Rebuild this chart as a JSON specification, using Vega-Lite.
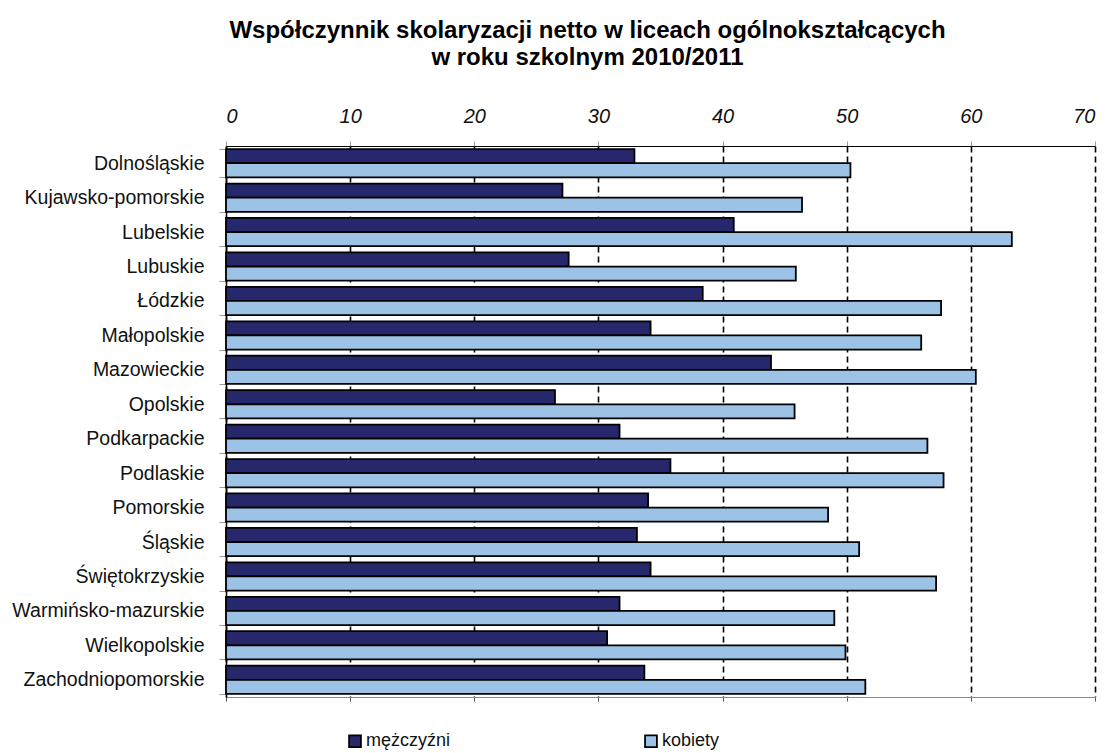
{
  "$schema": "https://vega.github.io/schema/vega-lite/v6.json",
  "autosize": {"type": "none"},
  "padding": {"left": 226, "top": 146, "right": 12, "bottom": 56},
  "width": 869,
  "height": 551,
  "background": "white",
  "config": {
    "font": "Liberation Sans, Arial",
    "view": {"stroke": null}
  },
  "title": {
    "text": ["Współczynnik skolaryzacji netto w liceach ogólnokształcących", "w roku szkolnym 2010/2011"],
    "font": "Liberation Sans, Arial",
    "fontSize": 24,
    "fontWeight": "bold",
    "color": "black",
    "anchor": "middle",
    "dx": -73,
    "offset": 36,
    "lineHeight": 27
  },
  "data": {
    "values": [
      {"region": "Dolnośląskie", "plec": "mężczyźni", "wartosc": 32.9},
      {"region": "Dolnośląskie", "plec": "kobiety", "wartosc": 50.3},
      {"region": "Kujawsko-pomorskie", "plec": "mężczyźni", "wartosc": 27.1},
      {"region": "Kujawsko-pomorskie", "plec": "kobiety", "wartosc": 46.4},
      {"region": "Lubelskie", "plec": "mężczyźni", "wartosc": 40.9},
      {"region": "Lubelskie", "plec": "kobiety", "wartosc": 63.3},
      {"region": "Lubuskie", "plec": "mężczyźni", "wartosc": 27.6},
      {"region": "Lubuskie", "plec": "kobiety", "wartosc": 45.9},
      {"region": "Łódzkie", "plec": "mężczyźni", "wartosc": 38.4},
      {"region": "Łódzkie", "plec": "kobiety", "wartosc": 57.6},
      {"region": "Małopolskie", "plec": "mężczyźni", "wartosc": 34.2},
      {"region": "Małopolskie", "plec": "kobiety", "wartosc": 56.0},
      {"region": "Mazowieckie", "plec": "mężczyźni", "wartosc": 43.9},
      {"region": "Mazowieckie", "plec": "kobiety", "wartosc": 60.4},
      {"region": "Opolskie", "plec": "mężczyźni", "wartosc": 26.5},
      {"region": "Opolskie", "plec": "kobiety", "wartosc": 45.8},
      {"region": "Podkarpackie", "plec": "mężczyźni", "wartosc": 31.7},
      {"region": "Podkarpackie", "plec": "kobiety", "wartosc": 56.5},
      {"region": "Podlaskie", "plec": "mężczyźni", "wartosc": 35.8},
      {"region": "Podlaskie", "plec": "kobiety", "wartosc": 57.8},
      {"region": "Pomorskie", "plec": "mężczyźni", "wartosc": 34.0},
      {"region": "Pomorskie", "plec": "kobiety", "wartosc": 48.5},
      {"region": "Śląskie", "plec": "mężczyźni", "wartosc": 33.1},
      {"region": "Śląskie", "plec": "kobiety", "wartosc": 51.0},
      {"region": "Świętokrzyskie", "plec": "mężczyźni", "wartosc": 34.2},
      {"region": "Świętokrzyskie", "plec": "kobiety", "wartosc": 57.2},
      {"region": "Warmińsko-mazurskie", "plec": "mężczyźni", "wartosc": 31.7},
      {"region": "Warmińsko-mazurskie", "plec": "kobiety", "wartosc": 49.0},
      {"region": "Wielkopolskie", "plec": "mężczyźni", "wartosc": 30.7},
      {"region": "Wielkopolskie", "plec": "kobiety", "wartosc": 49.9},
      {"region": "Zachodniopomorskie", "plec": "mężczyźni", "wartosc": 33.7},
      {"region": "Zachodniopomorskie", "plec": "kobiety", "wartosc": 51.5}
    ]
  },
  "encoding": {
    "y": {
      "field": "region",
      "type": "nominal",
      "sort": null,
      "title": null,
      "scale": {"paddingInner": 0.18, "paddingOuter": 0.09},
      "axis": {
        "orient": "left",
        "tickBand": "extent",
        "domainColor": "black",
        "domainWidth": 1.5,
        "tickColor": "#999999",
        "tickSize": 7,
        "labelFont": "Liberation Sans, Arial",
        "labelFontSize": 19.5,
        "labelColor": "#111111",
        "labelPadding": 15,
        "labelLimit": 300
      }
    },
    "yOffset": {"field": "plec", "type": "nominal", "sort": ["mężczyźni", "kobiety"]},
    "x": {
      "field": "wartosc",
      "type": "quantitative",
      "title": null,
      "scale": {"domain": [0, 70], "nice": false}
    }
  },
  "layer": [
    {
      "mark": {"type": "bar", "stroke": "black", "strokeWidth": 1.8},
      "encoding": {
        "x": {
          "field": "wartosc",
          "type": "quantitative",
          "title": null,
          "scale": {"domain": [0, 70], "nice": false},
          "axis": {
            "orient": "top",
            "values": [0, 10, 20, 30, 40, 50, 60, 70],
            "grid": true,
            "gridColor": "black",
            "gridDash": [6, 4],
            "gridWidth": 1.6,
            "domainColor": "black",
            "domainWidth": 1.2,
            "tickColor": "#999999",
            "tickSize": 5,
            "labelFont": "Liberation Sans, Arial",
            "labelFontSize": 20,
            "labelFontStyle": "italic",
            "labelColor": "#111111",
            "labelPadding": 15
          }
        },
        "color": {
          "field": "plec",
          "type": "nominal",
          "sort": ["mężczyźni", "kobiety"],
          "scale": {"domain": ["mężczyźni", "kobiety"], "range": ["#26286b", "#9cc3e6"]},
          "legend": {
            "title": null,
            "orient": "none",
            "legendX": 120,
            "legendY": 586,
            "direction": "horizontal",
            "columns": 2,
            "columnPadding": 190,
            "padding": 0,
            "symbolType": "square",
            "symbolSize": 140,
            "symbolStrokeColor": "black",
            "symbolStrokeWidth": 1.8,
            "labelFont": "Liberation Sans, Arial",
            "labelFontSize": 18,
            "labelColor": "#111111",
            "labelOffset": 2
          }
        }
      }
    },
    {
      "mark": {"type": "bar", "opacity": 0},
      "encoding": {
        "x": {
          "field": "wartosc",
          "type": "quantitative",
          "title": null,
          "scale": {"domain": [0, 70], "nice": false},
          "axis": {
            "orient": "bottom",
            "values": [0, 10, 20, 30, 40, 50, 60, 70],
            "labels": false,
            "grid": false,
            "domainColor": "#888888",
            "domainWidth": 1,
            "tickColor": "#555555",
            "tickSize": 4
          }
        }
      }
    }
  ],
  "resolve": {"axis": {"x": "independent"}}
}
